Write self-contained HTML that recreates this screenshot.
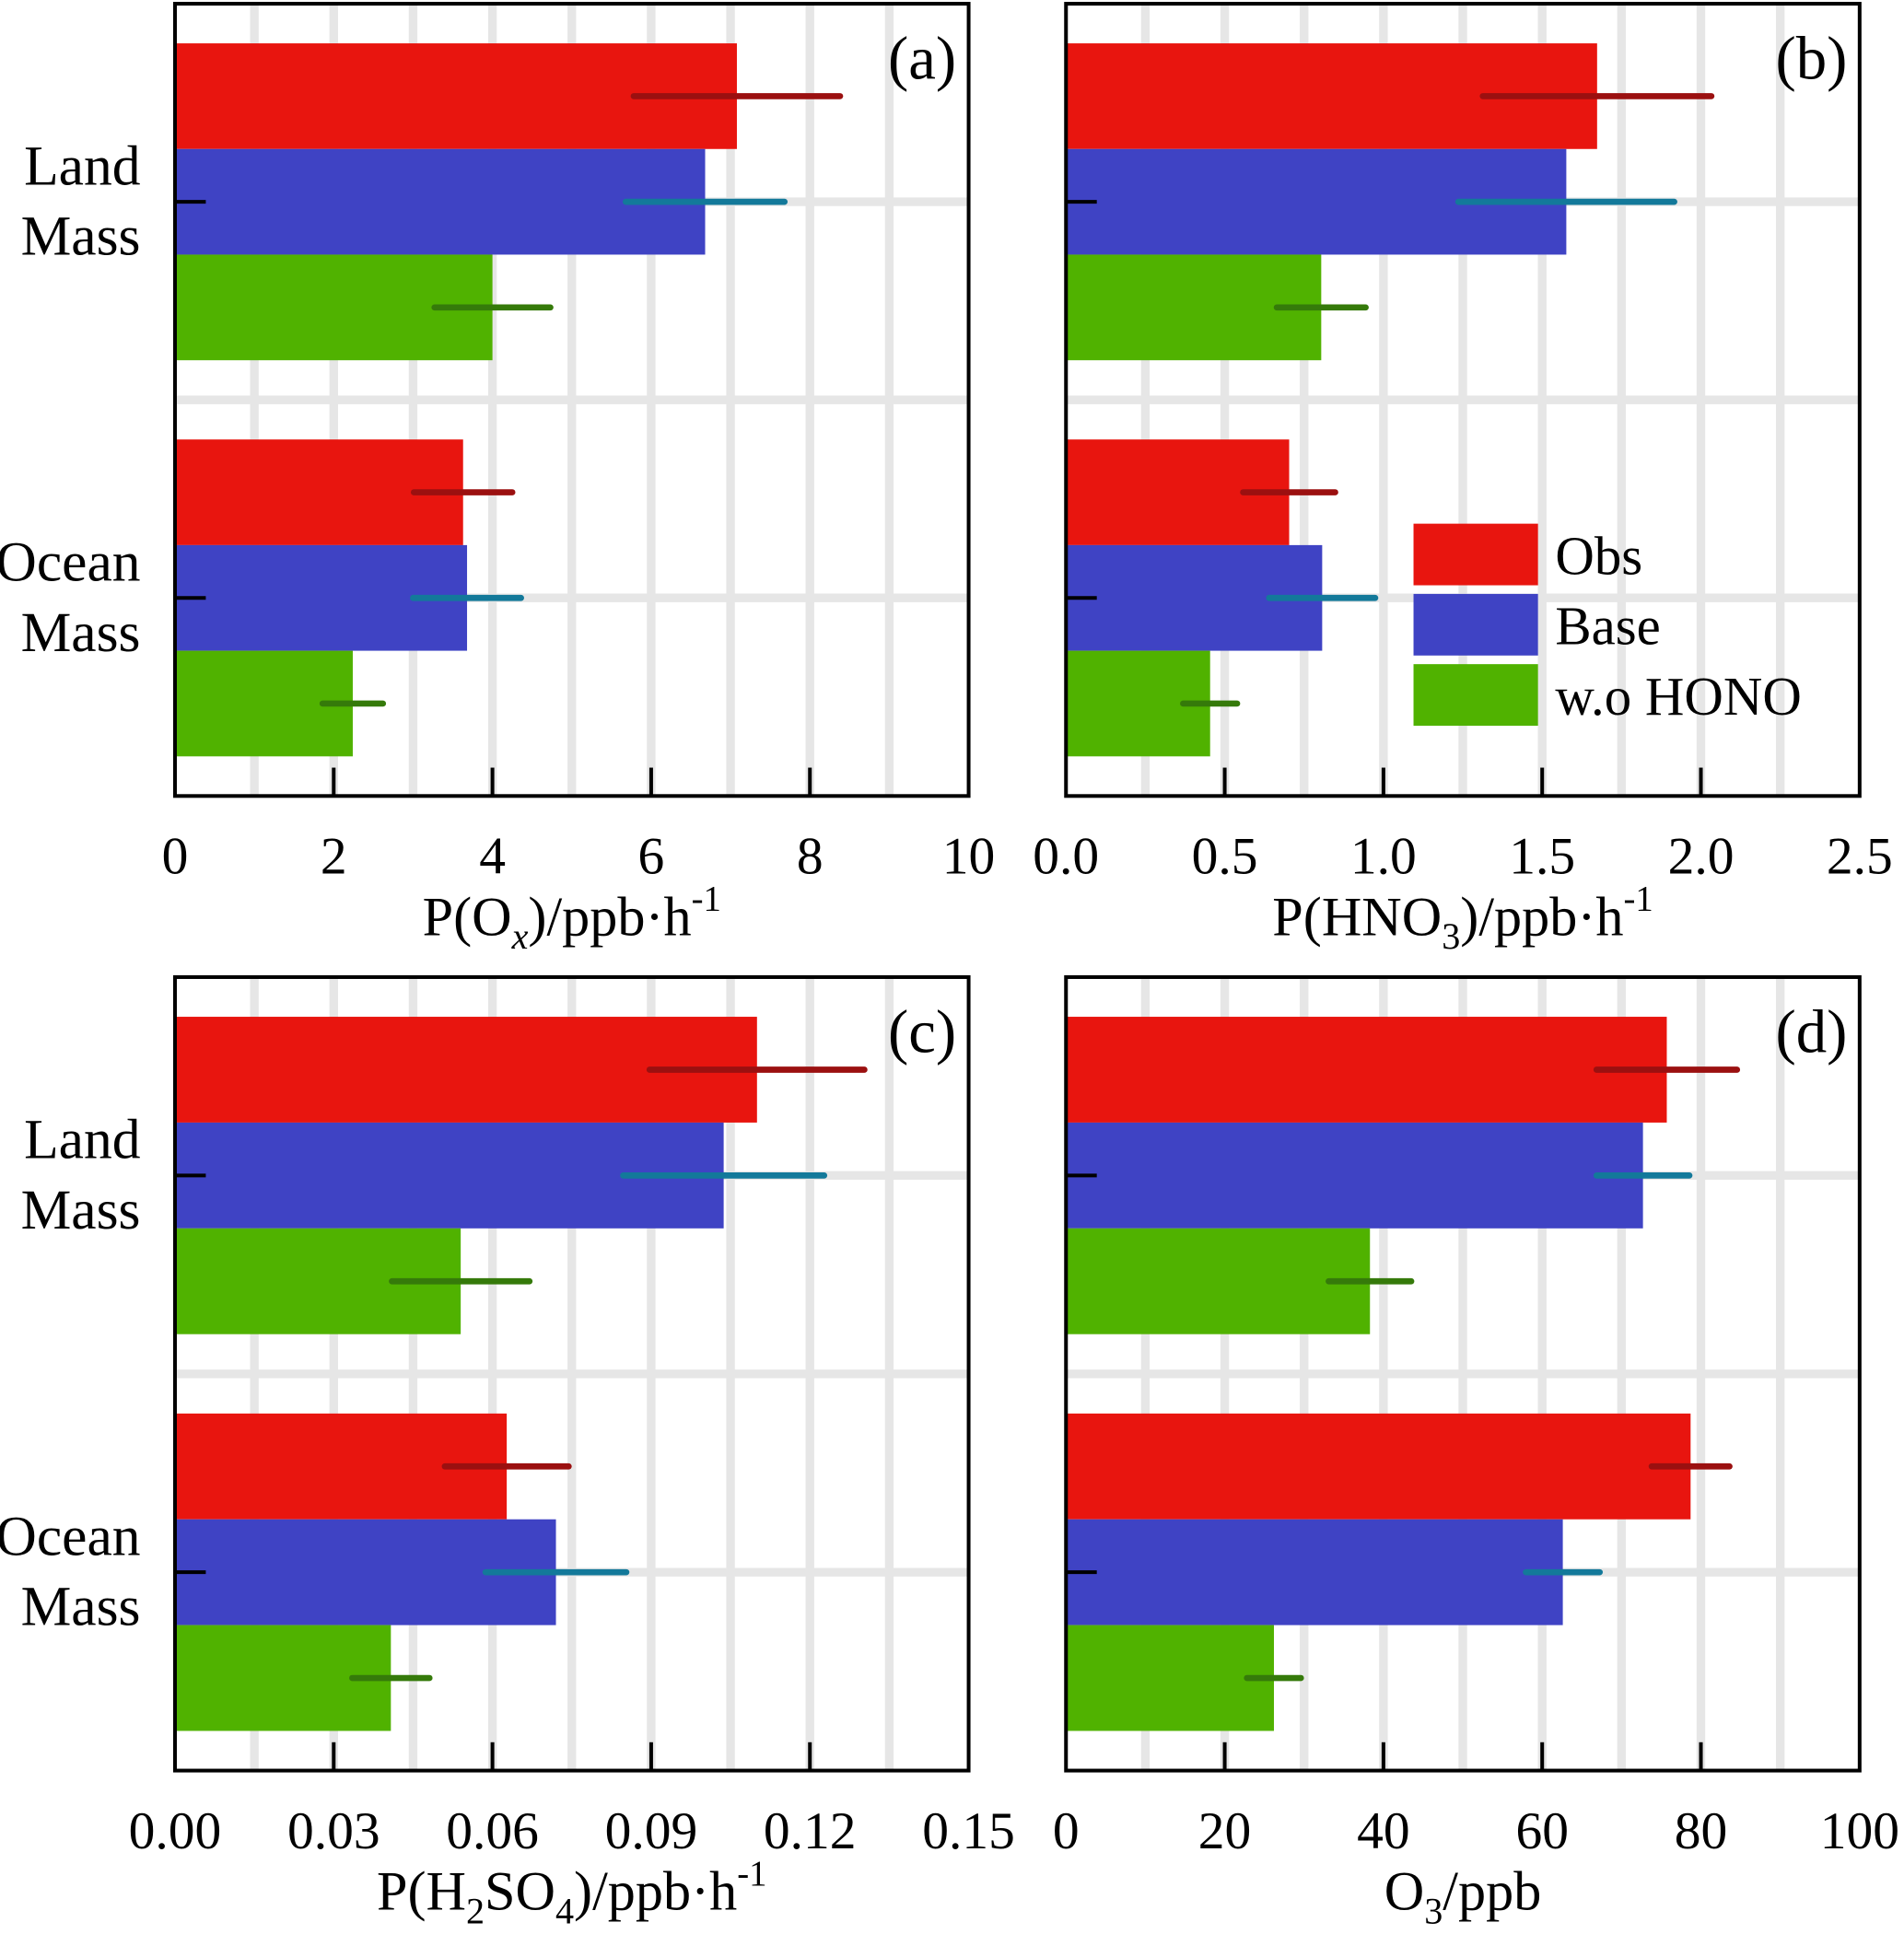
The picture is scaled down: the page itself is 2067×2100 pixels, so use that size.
<!DOCTYPE html>
<html><head><meta charset="utf-8"><style>
html,body{margin:0;padding:0;background:#fff;}
svg{display:block;font-family:"Liberation Serif",serif;}
</style></head><body>
<svg id="chart" width="2067" height="2100" viewBox="0 0 1545 1569.6" xmlns="http://www.w3.org/2000/svg"></svg>
<script>
// ---- data ----
const categories = ["Land Mass", "Ocean Mass"];
const seriesNames = ["Obs", "Base", "w.o HONO"];
// panel a: P(Ox)
const aObs = [7.08, 3.63], aObsErr = [1.3, 0.62];
const aBase = [6.68, 3.68], aBaseErr = [1.0, 0.68];
const aWo = [4.0, 2.24], aWoErr = [0.73, 0.38];
const aTicks = ["0", "2", "4", "6", "8", "10"];
// panel b: P(HNO3)
const bObs = [1.673, 0.703], bObsErr = [0.36, 0.145];
const bBase = [1.576, 0.807], bBaseErr = [0.34, 0.167];
const bWo = [0.804, 0.454], bWoErr = [0.14, 0.085];
const bTicks = ["0.0", "0.5", "1.0", "1.5", "2.0", "2.5"];
// panel c: P(H2SO4)
const cObs = [0.110, 0.0627], cObsErr = [0.0203, 0.0117];
const cBase = [0.1037, 0.072], cBaseErr = [0.019, 0.0133];
const cWo = [0.054, 0.0408], cWoErr = [0.013, 0.0073];
const cTicks = ["0.00", "0.03", "0.06", "0.09", "0.12", "0.15"];
// panel d: O3
const dObs = [75.7, 78.7], dObsErr = [8.85, 4.9];
const dBase = [72.7, 62.6], dBaseErr = [5.85, 4.65];
const dWo = [38.3, 26.2], dWoErr = [5.2, 3.4];
const dTicks = ["0", "20", "40", "60", "80", "100"];

const NS = "http://www.w3.org/2000/svg";
const svg = document.getElementById("chart");
function mk(tag, attrs, parent) {
  const e = document.createElementNS(NS, tag);
  for (const k in attrs) e.setAttribute(k, attrs[k]);
  (parent || svg).appendChild(e);
  return e;
}
const barCol = ["#e8150f", "#3f43c4", "#50b200"];
const errCol = ["#9b1010", "#13799a", "#357a0a"];

function panel(o) {
  const g = mk("g", {});
  
  
  const x0 = o.x0, x1 = o.x1, y0 = o.y0, y1 = o.y1;
  const xs = v => x0 + (v / o.max) * (x1 - x0);
  const ys = c => y0 + (c - 0.5) / 2 * (y1 - y0);
  const nMinor = o.minor;
  for (let i = 1; i < nMinor; i++) {
    const x = x0 + i * (x1 - x0) / nMinor;
    const l = mk("line", {x1: x, x2: x, y1: y0, y2: y1, stroke: "#e6e6e6", "stroke-width": 7}, g);
    
    
  }
  [1, 1.5, 2].forEach(c => {
    const y = ys(c);
    const l = mk("line", {x1: x0, x2: x1, y1: y, y2: y, stroke: "#e6e6e6", "stroke-width": 7}, g);
    
    
  });
  const bw = 0.8 / 3;
  const groups = [[o.obs, o.obsErr], [o.base, o.baseErr], [o.wo, o.woErr]];
  categories.forEach((cat, ci) => {
    groups.forEach((sr, si) => {
      const top = ys(ci + 1 - 0.4 + si * bw);
      const h = ys(ci + 1 - 0.4 + (si + 1) * bw) - top;
      const r = mk("rect", {x: x0, y: top, width: xs(sr[0][ci]) - x0, height: h, fill: barCol[si]}, g);
      
      
    });
    groups.forEach((sr, si) => {
      const yc = ys(ci + 1 - 0.4 + (si + 0.5) * bw);
      const v = sr[0][ci], e = sr[1][ci];
      const l = mk("line", {x1: xs(v - e), x2: xs(v + e), y1: yc, y2: yc, stroke: errCol[si], "stroke-width": 5, "stroke-linecap": "round"}, g);
      
      
    });
  });
  for (let i = 1; i < 5; i++) {
    const x = x0 + i * (x1 - x0) / 5;
    const t = mk("line", {x1: x, x2: x, y1: y1, y2: y1 - 23, stroke: "#000", "stroke-width": 3}, g);
    
    
  }
  [1, 2].forEach(c => {
    const t = mk("line", {x1: x0, x2: x0 + 25, y1: ys(c), y2: ys(c), stroke: "#000", "stroke-width": 3}, g);
    
    
  });
  const fr = mk("rect", {x: x0, y: y0, width: x1 - x0, height: y1 - y0, fill: "none", stroke: "#000", "stroke-width": 3}, g);
  
  
  o.ticks.forEach((lab, i) => {
    const x = x0 + i * (x1 - x0) / 5;
    const t = mk("text", {x: x, y: y1 + 63, "font-size": 43, "text-anchor": "middle"}, g);
    t.textContent = lab;
    
    
  });
  const pl = mk("text", {x: x1 - 10, y: y0 + 61, "font-size": 50, "text-anchor": "end"}, g);
  pl.textContent = "(" + o.id + ")";
  
  
  const at = mk("text", {x: (x0 + x1) / 2, y: y1 + 113, "font-size": 45, "text-anchor": "middle"}, g);
  at.innerHTML = o.title;
  
  
  if (o.ylabels) {
    const lines = [["Land", "Mass"], ["Ocean", "Mass"]];
    [1, 2].forEach((c, i) => {
      const t = mk("text", {x: 114, y: ys(c) - 14, "font-size": 46, "text-anchor": "end"}, g);
      t.textContent = lines[i][0];
      
      
      const t2 = mk("text", {x: 114, y: ys(c) + 43, "font-size": 46, "text-anchor": "end"}, g);
      t2.textContent = lines[i][1];
      
      
    });
  }
}
const sup = '<tspan dy="-20" font-size="29">-1</tspan>';
panel({id: "a", x0: 142, x1: 786, y0: 3, y1: 646, max: 10, minor: 10, obs: aObs, obsErr: aObsErr, base: aBase, baseErr: aBaseErr, wo: aWo, woErr: aWoErr, ticks: aTicks, ylabels: true,
  title: 'P(O<tspan dy="11" font-size="30" font-style="italic">x</tspan><tspan dy="-11">)/ppb·h</tspan>' + sup});
panel({id: "b", x0: 865, x1: 1509, y0: 3, y1: 646, max: 2.5, minor: 10, obs: bObs, obsErr: bObsErr, base: bBase, baseErr: bBaseErr, wo: bWo, woErr: bWoErr, ticks: bTicks, ylabels: false,
  title: 'P(HNO<tspan dy="11" font-size="30">3</tspan><tspan dy="-11">)/ppb·h</tspan>' + sup});
panel({id: "c", x0: 142, x1: 786, y0: 793, y1: 1437, max: 0.15, minor: 10, obs: cObs, obsErr: cObsErr, base: cBase, baseErr: cBaseErr, wo: cWo, woErr: cWoErr, ticks: cTicks, ylabels: true,
  title: 'P(H<tspan dy="11" font-size="30">2</tspan><tspan dy="-11">SO</tspan><tspan dy="11" font-size="30">4</tspan><tspan dy="-11">)/ppb·h</tspan>' + sup});
panel({id: "d", x0: 865, x1: 1509, y0: 793, y1: 1437, max: 100, minor: 10, obs: dObs, obsErr: dObsErr, base: dBase, baseErr: dBaseErr, wo: dWo, woErr: dWoErr, ticks: dTicks, ylabels: false,
  title: 'O<tspan dy="11" font-size="30">3</tspan><tspan dy="-11">/ppb</tspan>'});

const lg = mk("g", {});


seriesNames.forEach((n, i) => {
  const y = 425 + i * 57;
  const r = mk("rect", {x: 1147, y: y, width: 101, height: 50, fill: barCol[i]}, lg);
  
  
  const t = mk("text", {x: 1262, y: y + 41, "font-size": 44}, lg);
  t.textContent = n;
  
  
});
</script>
</body></html>
